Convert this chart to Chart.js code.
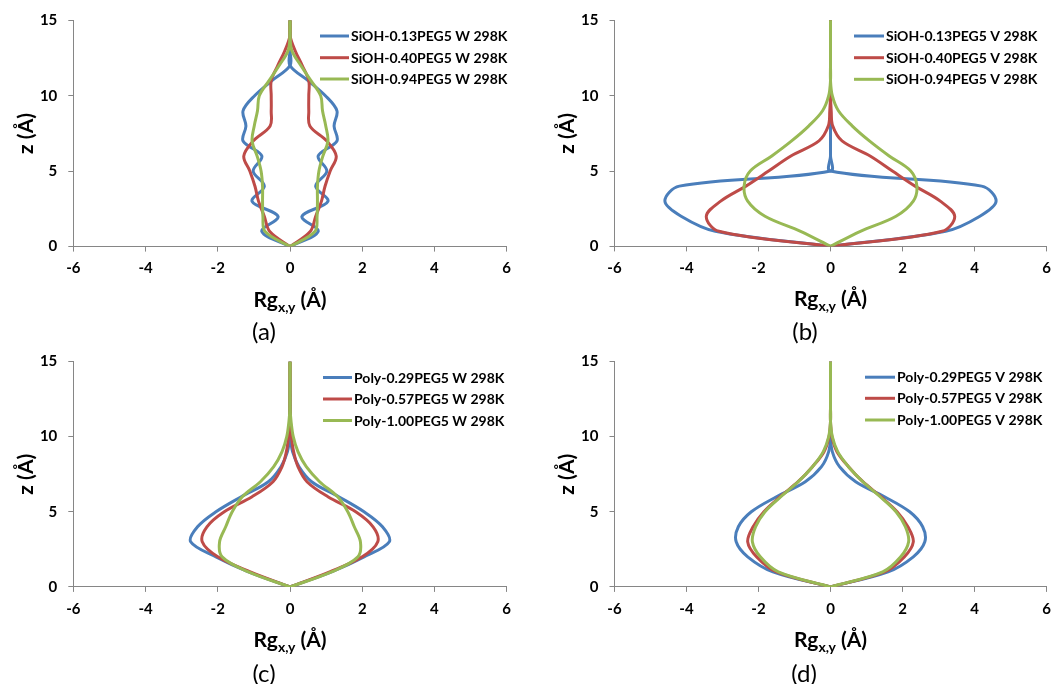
<!DOCTYPE html>
<html><head><meta charset="utf-8">
<script src="https://cdn.jsdelivr.net/npm/chart.js@4/dist/chart.umd.min.js"></script>
<style>
html,body{margin:0;padding:0;background:#fff;}
#wrap{position:relative;width:1053px;height:684px;overflow:hidden;background:#fff;}
canvas{position:absolute;}
.cap{position:absolute;font-family:Lato,"Liberation Sans",sans-serif;font-size:24px;color:#000;transform:translate(-50%,-50%);white-space:nowrap;line-height:1;}
</style></head><body>
<div id="wrap">
<canvas id="ca" width="530" height="342" style="left:0;top:0"></canvas>
<canvas id="cb" width="523" height="342" style="left:530px;top:0"></canvas>
<canvas id="cc" width="530" height="342" style="left:0;top:342px"></canvas>
<canvas id="cd" width="523" height="342" style="left:530px;top:342px"></canvas>
<div class="cap" style="left:264px;top:331px">(a)</div>
<div class="cap" style="left:805px;top:331px">(b)</div>
<div class="cap" style="left:264px;top:673px">(c)</div>
<div class="cap" style="left:804px;top:673px">(d)</div>
</div>
<script>
// ---- data ----
const zLevels = [0,1,2,3,4,5,6,7,8,9,10,11,12,13,14,15];
const xTicks = [-6,-4,-2,0,2,4,6];
const yTicks = [0,5,10,15];
const xTitleMain = 'Rg', xTitleSub = 'x,y', xTitleUnit = ' (Å)';
const yTitle = 'z (Å)';

// (a) SiOH in water
const labelsA = ['SiOH-0.13PEG5 W 298K','SiOH-0.40PEG5 W 298K','SiOH-0.94PEG5 W 298K'];
const rgA_013 = [0,0.78,0.33,1.05,0.71,1.02,0.78,1.30,1.22,1.30,0.98,0.50,0,0,0,0];
const rgA_040 = [0,0.56,0.71,0.87,0.97,1.11,1.28,1.02,0.55,0.52,0.52,0.52,0.34,0.14,0,0];
const rgA_094 = [0,0.69,0.75,0.76,0.76,0.80,0.91,1.05,0.99,0.90,0.85,0.58,0.30,0.05,0,0];

// (b) SiOH in vacuum
const labelsB = ['SiOH-0.13PEG5 V 298K','SiOH-0.40PEG5 V 298K','SiOH-0.94PEG5 V 298K'];
const rgB_013 = [0,3.20,4.15,4.60,4.20,0,0,0,0,0,0,0,0,0,0,0];
const rgB_040 = [0,3.10,3.45,3.05,2.35,1.72,1.10,0.32,0.06,0.02,0,0,0,0,0,0];
const rgB_094 = [0,0.83,1.82,2.30,2.40,2.23,1.63,1.08,0.60,0.22,0.05,0,0,0,0,0];

// (c) Poly in water
const labelsC = ['Poly-0.29PEG5 W 298K','Poly-0.57PEG5 W 298K','Poly-1.00PEG5 W 298K'];
const rgC_029 = [0,1.15,2.05,2.75,2.56,2.05,1.35,0.60,0.25,0.07,0.01,0,0,0,0,0];
const rgC_057 = [0,1.10,2.00,2.43,2.30,1.82,1.05,0.47,0.22,0.10,0.04,0.01,0,0,0,0];
const rgC_100 = [0,1.15,1.88,1.95,1.78,1.60,1.32,0.82,0.45,0.22,0.09,0.03,0,0,0,0];

// (d) Poly in vacuum
const labelsD = ['Poly-0.29PEG5 V 298K','Poly-0.57PEG5 V 298K','Poly-1.00PEG5 V 298K'];
const rgD_029 = [0,1.60,2.30,2.62,2.56,2.20,1.50,0.70,0.25,0.05,0,0,0,0,0,0];
const rgD_057 = [0,1.50,2.05,2.30,2.15,1.85,1.40,0.90,0.50,0.18,0.04,0,0,0,0,0];
const rgD_100 = [0,1.45,1.95,2.17,2.08,1.82,1.38,0.90,0.50,0.20,0.05,0,0,0,0,0];

const seriesColors = ['#4A7EBB','#BE4B48','#98B954'];
const FONT = 'Lato, "Liberation Sans", sans-serif';

// one half of the mirrored profile (sign = +1 right, -1 left), from z = 0 upward
function half(rg, sign){
  return zLevels.map((z, i) => ({x: sign * rg[i], y: z}));
}

const deco = {
  id: 'deco',
  afterDraw(chart, args, o){
    const ctx = chart.ctx, ca = chart.chartArea;
    ctx.save();
    o.labels.forEach((lab, i) => {
      const y = o.legendY[i];
      ctx.strokeStyle = seriesColors[i]; ctx.lineWidth = 3; ctx.lineCap = 'butt';
      ctx.beginPath(); ctx.moveTo(o.legendX, y); ctx.lineTo(o.legendX + o.lineLen, y); ctx.stroke();
      ctx.fillStyle = '#000'; ctx.font = 'bold 14px ' + FONT;
      ctx.textBaseline = 'middle'; ctx.textAlign = 'left';
      ctx.fillText(lab, o.legendX + o.lineLen + 2, y + 0.5);
    });
    const big = 'bold 21px ' + FONT, small = 'bold 14px ' + FONT;
    ctx.font = big; const w1 = ctx.measureText(xTitleMain).width; const w3 = ctx.measureText(xTitleUnit).width;
    ctx.font = small; const w2 = ctx.measureText(xTitleSub).width;
    const cx = (ca.left + ca.right) / 2;
    let x = cx - (w1 + w2 + w3) / 2;
    const base = ca.bottom + 60;
    ctx.textAlign = 'left'; ctx.textBaseline = 'alphabetic'; ctx.fillStyle = '#000';
    ctx.font = big; ctx.fillText(xTitleMain, x, base); x += w1;
    ctx.font = small; ctx.fillText(xTitleSub, x, base + 5); x += w2;
    ctx.font = big; ctx.fillText(xTitleUnit, x, base);
    ctx.translate(ca.left - 47, (ca.top + ca.bottom) / 2);
    ctx.rotate(-Math.PI / 2);
    ctx.textAlign = 'center'; ctx.textBaseline = 'middle';
    ctx.font = big; ctx.fillText(yTitle, 0, 0);
    ctx.restore();
  }
};

function makeChart(id, labels, series, g){
  const canvas = document.getElementById(id);
  const W = canvas.width, H = canvas.height;
  const datasets = [];
  series.forEach((rg, i) => {
    [1, -1].forEach(sign => {
      datasets.push({
        label: labels[i],
        data: half(rg, sign),
        showLine: true,
        borderColor: seriesColors[i],
        backgroundColor: seriesColors[i],
        borderWidth: 3,
        pointRadius: 0,
        pointHoverRadius: 0,
        tension: 0.35,
        fill: false,
        order: 3 - i
      });
    });
  });
  const tickFont = {family: FONT, size: 15, weight: 'bold'};
  return new Chart(canvas, {
    type: 'scatter',
    data: {datasets},
    plugins: [deco],
    options: {
      responsive: false,
      animation: false,
      layout: {padding: {left: 0, top: g.top, right: W - g.right, bottom: 0}},
      plugins: {
        legend: {display: false},
        tooltip: {enabled: false},
        deco: {labels, legendX: g.legendX, lineLen: g.lineLen, legendY: g.legendY}
      },
      scales: {
        x: {
          type: 'linear', min: -6, max: 6,
          afterBuildTicks: s => { s.ticks = xTicks.map(v => ({value: v})); },
          afterFit: s => { s.height = H - g.bottom; s.paddingLeft = 0; s.paddingRight = 0; },
          ticks: {font: tickFont, color: '#000', padding: 8, maxRotation: 0, autoSkip: false},
          grid: {display: true, drawOnChartArea: false, drawTicks: true, tickLength: 5, color: '#868686', lineWidth: 1},
          border: {display: true, color: '#868686', width: 1}
        },
        y: {
          type: 'linear', min: 0, max: 15,
          afterBuildTicks: s => { s.ticks = yTicks.map(v => ({value: v})); },
          afterFit: s => { s.width = g.left; s.paddingTop = 0; s.paddingBottom = 0; },
          ticks: {font: tickFont, color: '#000', padding: 11, autoSkip: false},
          grid: {display: true, drawOnChartArea: false, drawTicks: true, tickLength: 5, color: '#868686', lineWidth: 1},
          border: {display: true, color: '#868686', width: 1}
        }
      }
    }
  });
}

function build(){
  makeChart('ca', labelsA, [rgA_013, rgA_040, rgA_094],
    {left: 73.3, right: 506.7, top: 20.3, bottom: 246.6, legendX: 320, lineLen: 29, legendY: [36, 57.7, 79]});
  makeChart('cb', labelsB, [rgB_013, rgB_040, rgB_094],
    {left: 84.5, right: 516.5, top: 20.3, bottom: 246.4, legendX: 324, lineLen: 30, legendY: [36, 57.7, 79.3]});
  makeChart('cc', labelsC, [rgC_029, rgC_057, rgC_100],
    {left: 73.3, right: 506.7, top: 19.5, bottom: 244.9, legendX: 323, lineLen: 29, legendY: [35.5, 57, 78.5]});
  makeChart('cd', labelsD, [rgD_029, rgD_057, rgD_100],
    {left: 84.5, right: 516.5, top: 19.5, bottom: 244.9, legendX: 335, lineLen: 30, legendY: [35.2, 56.3, 78]});
}
if (document.fonts && document.fonts.load) {
  Promise.all([document.fonts.load('bold 14px Lato'), document.fonts.load('24px Lato')]).then(build, build);
} else build();
</script>
</body></html>
